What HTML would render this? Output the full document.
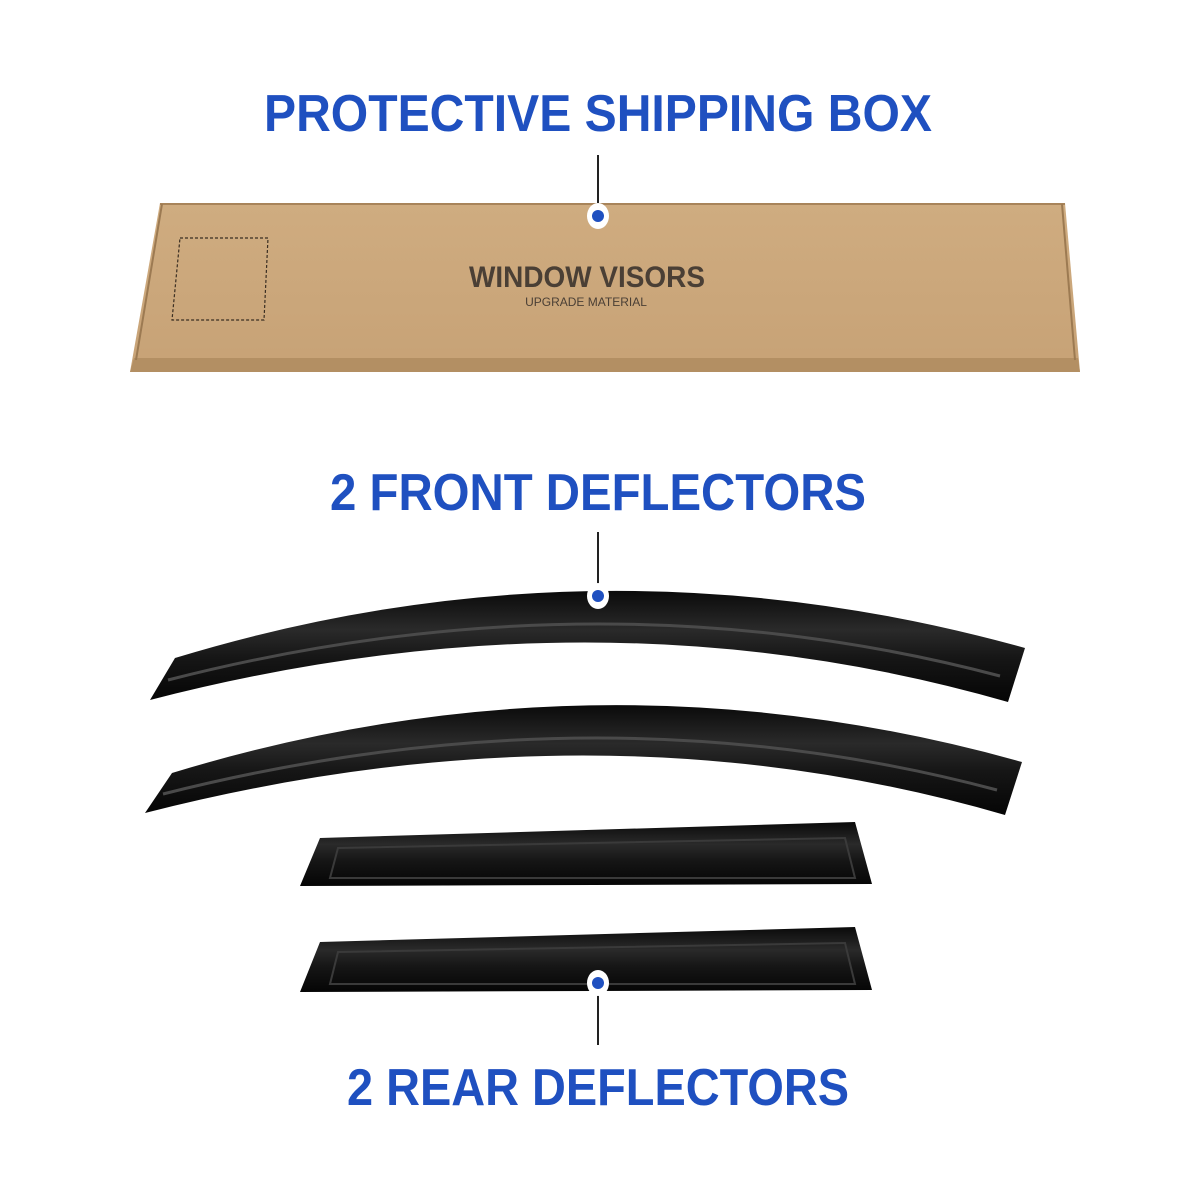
<!DOCTYPE html>
<html><head><meta charset="utf-8"><style>
html,body{margin:0;padding:0;background:#fff;width:1200px;height:1200px;overflow:hidden}
svg{display:block}
text{font-family:"Liberation Sans",sans-serif;font-weight:bold}
</style></head><body>
<svg width="1200" height="1200" viewBox="0 0 1200 1200" xmlns="http://www.w3.org/2000/svg">
<defs>
<linearGradient id="box" x1="0" y1="0" x2="0" y2="1">
<stop offset="0" stop-color="#cfac80"/><stop offset="1" stop-color="#c7a276"/>
</linearGradient>
<linearGradient id="vis" x1="0" y1="0" x2="0" y2="1">
<stop offset="0" stop-color="#0a0a0a"/><stop offset="0.35" stop-color="#2a2a2a"/><stop offset="0.6" stop-color="#161616"/><stop offset="1" stop-color="#050505"/>
</linearGradient>
</defs>
<text x="598" y="131" font-size="52" fill="#1f50c0" text-anchor="middle" textLength="668" lengthAdjust="spacingAndGlyphs">PROTECTIVE SHIPPING BOX</text>
<text x="598" y="510" font-size="52" fill="#1f50c0" text-anchor="middle" textLength="536" lengthAdjust="spacingAndGlyphs">2 FRONT DEFLECTORS</text>
<text x="598" y="1105" font-size="52" fill="#1f50c0" text-anchor="middle" textLength="502" lengthAdjust="spacingAndGlyphs">2 REAR DEFLECTORS</text>

<polygon points="160,203 1065,203 1080,372 130,372" fill="url(#box)"/>
<polygon points="134,358 1078,358 1080,372 130,372" fill="#b38f63"/>
<line x1="160" y1="204" x2="1065" y2="204" stroke="#a8845a" stroke-width="2"/>
<line x1="1062" y1="204" x2="1075" y2="360" stroke="#9c7a52" stroke-width="2"/>
<line x1="162" y1="204" x2="136" y2="360" stroke="#9c7a52" stroke-width="2"/>
<polygon points="180,238 268,238 264,320 172,320" fill="none" stroke="#3a2e22" stroke-width="1.2" stroke-dasharray="3,2"/>
<text x="587" y="287" font-size="30" fill="#4a3f35" text-anchor="middle" textLength="236" lengthAdjust="spacingAndGlyphs">WINDOW VISORS</text>
<text x="586" y="306" font-size="12" fill="#4a3f35" text-anchor="middle" style="font-weight:normal">UPGRADE MATERIAL</text>

<path d="M150,700 L175,658 Q598,529 1025,648 L1008,702 Q598,584 150,700 Z" fill="url(#vis)"/>
<path d="M168,680 Q598,570 1000,676" fill="none" stroke="#4a4a4a" stroke-width="3"/>
<path d="M145,813 L172,773 Q598,643 1022,762 L1005,815 Q598,697 145,813 Z" fill="url(#vis)"/>
<path d="M163,794 Q598,684 997,790" fill="none" stroke="#4a4a4a" stroke-width="3"/>

<polygon points="320,838 855,822 872,884 300,886" fill="url(#vis)"/>
<path d="M338,848 L845,838 L855,878 L330,878 Z" fill="none" stroke="#3a3a3a" stroke-width="2"/>
<polygon points="320,942 855,927 872,990 300,992" fill="url(#vis)"/>
<path d="M338,952 L845,943 L855,984 L330,984 Z" fill="none" stroke="#3a3a3a" stroke-width="2"/>

<line x1="598" y1="155" x2="598" y2="208" stroke="#222" stroke-width="2"/>
<ellipse cx="598" cy="216" rx="11" ry="13" fill="#fff"/><circle cx="598" cy="216" r="6" fill="#1f50c0"/>
<line x1="598" y1="532" x2="598" y2="585" stroke="#222" stroke-width="2"/>
<ellipse cx="598" cy="596" rx="11" ry="13" fill="#fff"/><circle cx="598" cy="596" r="6" fill="#1f50c0"/>
<line x1="598" y1="992" x2="598" y2="1045" stroke="#222" stroke-width="2"/>
<ellipse cx="598" cy="983" rx="11" ry="13" fill="#fff"/><circle cx="598" cy="983" r="6" fill="#1f50c0"/>
</svg>
</body></html>
